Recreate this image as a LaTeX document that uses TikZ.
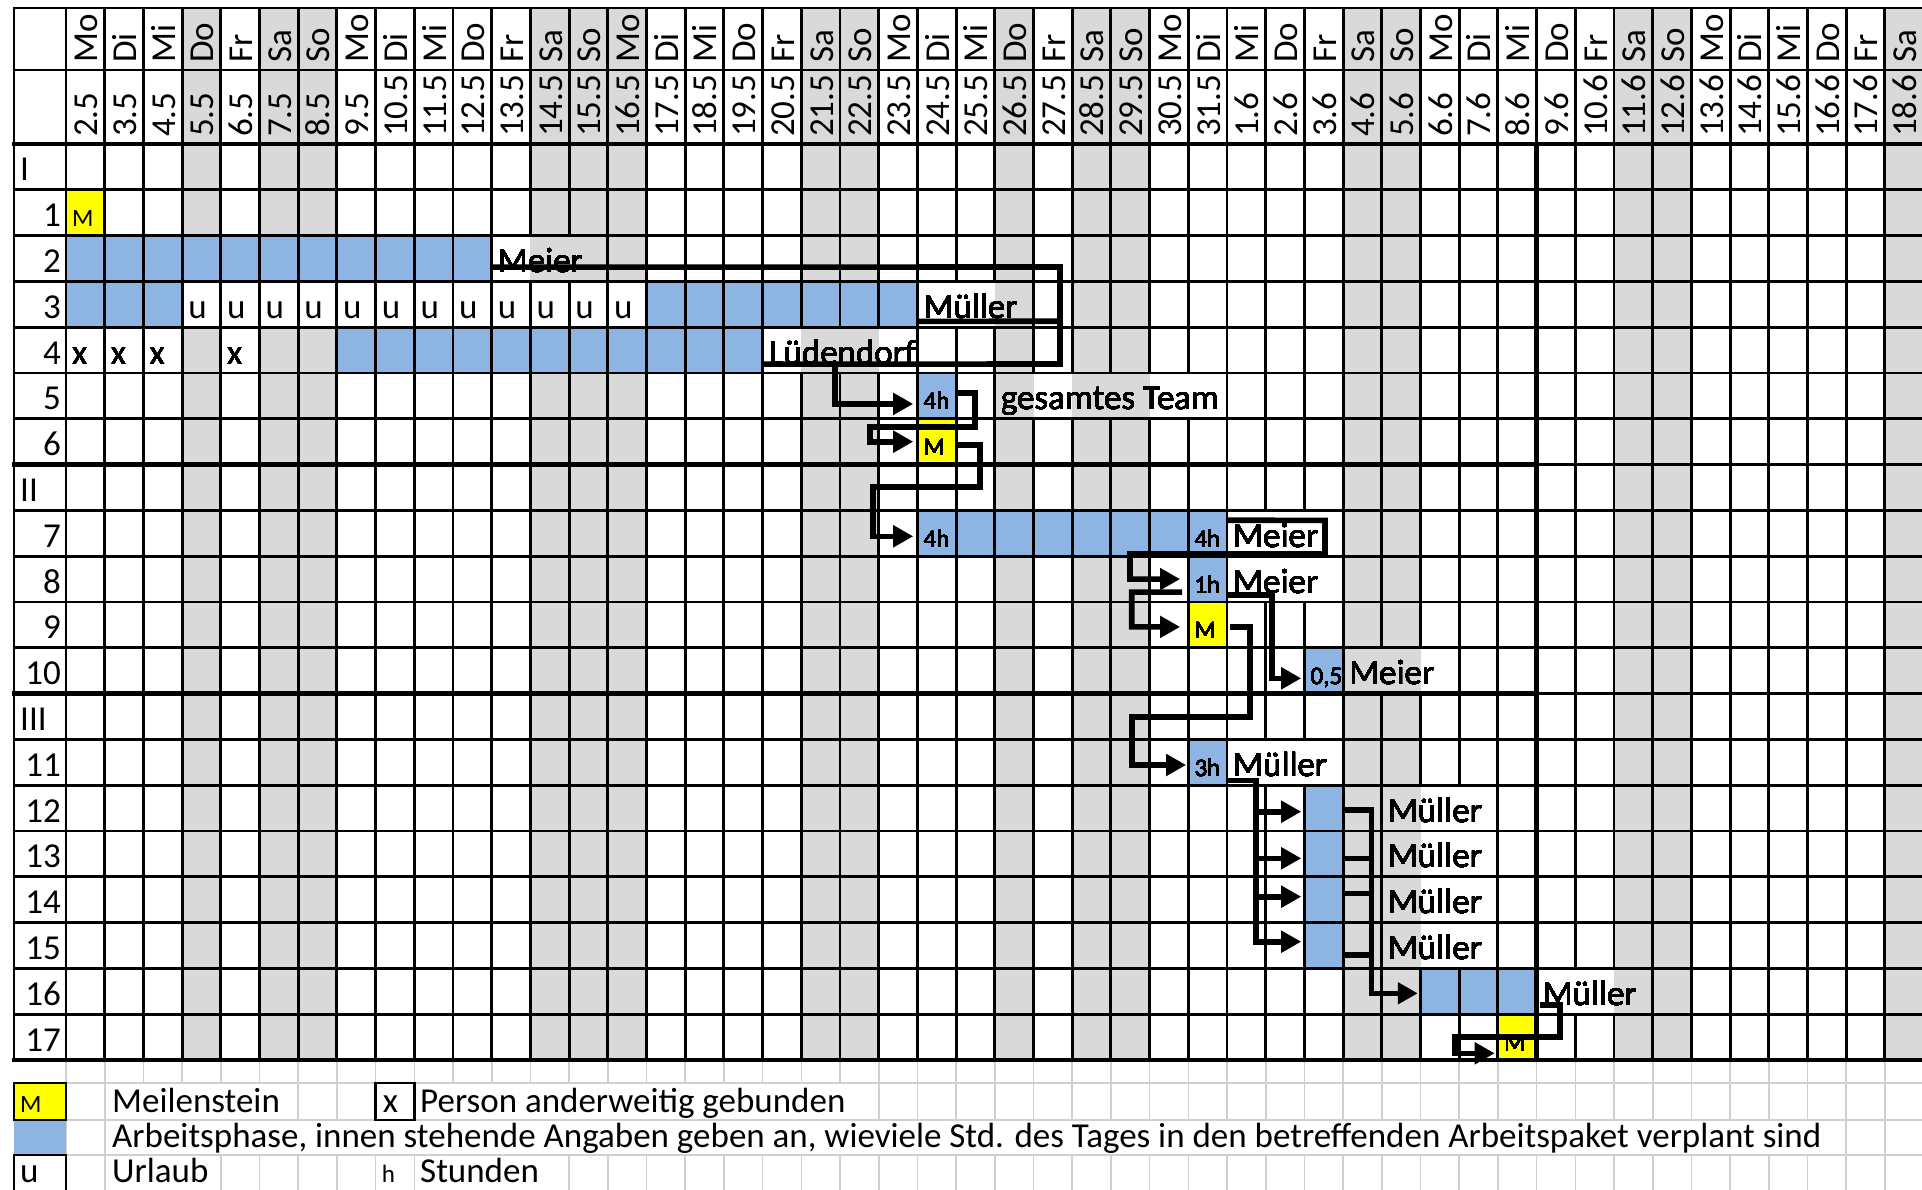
\documentclass[tikz,border=0pt]{standalone}
\usepackage{fontspec}
\setmainfont{Carlito}
\usetikzlibrary{arrows.meta}
\definecolor{wkend}{HTML}{D9D9D9}
\definecolor{barblue}{HTML}{8DB4E2}
\definecolor{msyellow}{HTML}{FFFF00}
\definecolor{lgrid}{HTML}{D0D0D0}
\newcommand\skipv[2]{\expandafter\gdef\csname sk@#1@#2\endcsname{}}
\newcommand\skipl[2]{\expandafter\gdef\csname lk@#1@#2\endcsname{}}
% body rows: grid lines hidden by overflowing text
\skipv{2}{12}\skipv{2}{13}
\skipv{3}{23}\skipv{3}{24}
\skipv{4}{19}\skipv{4}{20}\skipv{4}{21}
\foreach \coli in {25,...,29}{\skipv{5}{\coli}}
\skipv{8}{31}\skipv{8}{32}
\skipv{9}{31}\skipv{9}{32}
\skipv{11}{34}\skipv{11}{35}
\skipv{13}{31}\skipv{13}{32}
\foreach \rowi in {14,...,17}{\skipv{\rowi}{35}\skipv{\rowi}{36}}
\skipv{18}{39}\skipv{18}{40}
% legend rows
\foreach \coli in {2,...,5}{\skipl{1}{\coli}}
\foreach \coli in {10,...,20}{\skipl{1}{\coli}}
\foreach \coli in {2,...,45}{\skipl{2}{\coli}}
\skipl{3}{2}\skipl{3}{3}\skipl{3}{10}\skipl{3}{11}\skipl{3}{12}
\newcommand\mkbar[5]{\node[cellbox,fill=#5,minimum width={38.7pt*(#4-#3+1)}] (#1) at ({66+38.7*(#3+#4+1)/2},{144+45.8*(#2)+22.9}) {};}
\newcommand\ctext[5]{\node[#5] (#1) at ({66+38.7*(#3)+6},{144+45.8*(#2+1)-9}) {#4};}
\begin{document}
\begin{tikzpicture}[x=1pt,y=-1pt,
  gl/.style={line width=2.9pt,black},
  thk/.style={line width=4.6pt,black},
  lg/.style={line width=1.6pt,lgrid},
  conn/.style={line width=5.6pt,black,line join=miter},
  arr/.style={conn,-{Triangle[length=20pt,width=21pt]}},
  txt/.style={inner sep=0pt,anchor=base west,font=\fontsize{35}{40}\selectfont},
  small/.style={inner sep=0pt,anchor=base west,font=\fontsize{25}{28}\selectfont},
  rlab/.style={inner sep=0pt,anchor=base east,font=\fontsize{35}{40}\selectfont},
  cellbox/.style={inner sep=0pt,minimum width=38.7pt,minimum height=45.8pt,draw=none},
]
\useasboundingbox (0,0) rectangle (1922,1190);
\fill[white] (0,0) rectangle (1922,1190);
% weekend / holiday columns
\foreach \coli in {3,5,6,12,13,14,19,20,24,26,27,33,34,40,41,47}
  \fill[wkend] ({66+38.7*\coli},8) rectangle ({66+38.7*(\coli+1)},1060);
% vacation cells are white
\fill[white] ({66+38.7*3},281.4) rectangle ({66+38.7*15},327.2);
% bars and milestones
\mkbar{m1}{1}{0}{0}{msyellow}
\mkbar{bar2}{2}{0}{10}{barblue}
\mkbar{bar3a}{3}{0}{2}{barblue}
\mkbar{bar3b}{3}{15}{21}{barblue}
\mkbar{bar4}{4}{7}{17}{barblue}
\mkbar{c5}{5}{22}{22}{barblue}
\mkbar{m6}{6}{22}{22}{msyellow}
\mkbar{bar7}{8}{22}{29}{barblue}
\mkbar{c8}{9}{29}{29}{barblue}
\mkbar{m9}{10}{29}{29}{msyellow}
\mkbar{c10}{11}{32}{32}{barblue}
\mkbar{c11}{13}{29}{29}{barblue}
\mkbar{c12}{14}{32}{32}{barblue}
\mkbar{c13}{15}{32}{32}{barblue}
\mkbar{c14}{16}{32}{32}{barblue}
\mkbar{c15}{17}{32}{32}{barblue}
\mkbar{bar16}{18}{35}{37}{barblue}
\mkbar{m17}{19}{37}{37}{msyellow}
% legend light grid
\foreach \L/\ya/\yb in {0/1060/1083,1/1083/1120,2/1120/1155,3/1155/1190}{
  \foreach \coli in {0,...,47}{
    \ifcsname lk@\L @\coli\endcsname\else
      \draw[lg] ({66+38.7*\coli},\ya) -- ({66+38.7*\coli},\yb);
    \fi}}
\foreach \yy in {1083,1120,1155} \draw[lg] (66,\yy) -- (1922,\yy);
% table grid
\draw[gl] (14,8) -- (1922,8);
\draw[gl] (14,70) -- (1922,70);
\foreach \rowi in {1,...,19} \draw[gl] (14,{144+45.8*\rowi}) -- (1922,{144+45.8*\rowi});
\draw[gl] (14,6.6) -- (14,1061);
\draw[gl] (66,6.6) -- (66,1061);
\foreach \coli in {1,...,47} \draw[gl] ({66+38.7*\coli},8) -- ({66+38.7*\coli},144);
\foreach \rowi in {0,...,19}{
  \foreach \coli in {1,...,47}{
    \ifcsname sk@\rowi @\coli\endcsname\else
      \draw[gl] ({66+38.7*\coli},{144+45.8*\rowi}) -- ({66+38.7*\coli},{144+45.8*(\rowi+1)});
    \fi}}
\draw[thk] (12,144) -- (1922,144);
\draw[thk] (12,464.6) -- (1536.6,464.6);
\draw[thk] (12,693.6) -- (1536.6,693.6);
\draw[thk] (1536.6,144) -- (1536.6,1060);
\draw[thk] (12,1060) -- (1922,1060);
% header texts
\foreach \i/\dte/\wdy in {0/2.5/Mo,1/3.5/Di,2/4.5/Mi,3/5.5/Do,4/6.5/Fr,5/7.5/Sa,6/8.5/So,
  7/9.5/Mo,8/10.5/Di,9/11.5/Mi,10/12.5/Do,11/13.5/Fr,12/14.5/Sa,13/15.5/So,
  14/16.5/Mo,15/17.5/Di,16/18.5/Mi,17/19.5/Do,18/20.5/Fr,19/21.5/Sa,20/22.5/So,
  21/23.5/Mo,22/24.5/Di,23/25.5/Mi,24/26.5/Do,25/27.5/Fr,26/28.5/Sa,27/29.5/So,
  28/30.5/Mo,29/31.5/Di,30/1.6/Mi,31/2.6/Do,32/3.6/Fr,33/4.6/Sa,34/5.6/So,
  35/6.6/Mo,36/7.6/Di,37/8.6/Mi,38/9.6/Do,39/10.6/Fr,40/11.6/Sa,41/12.6/So,
  42/13.6/Mo,43/14.6/Di,44/15.6/Mi,45/16.6/Do,46/17.6/Fr,47/18.6/Sa}{
  \node[txt,rotate=90] (wd\i) at ({66+38.7*(\i+1)-7},63) {\wdy};
  \node[txt,rotate=90] (dt\i) at ({66+38.7*(\i+1)-7},137) {\dte};
}
% row labels
\node[txt] (lI) at (20,181) {I};
\node[txt] (lII) at (20,{144+45.8*8-9}) {II};
\node[txt] (lIII) at (20,{144+45.8*13-9}) {III};
\foreach \rowi/\lab in {1/1,2/2,3/3,4/4,5/5,6/6,8/7,9/8,10/9,11/10,13/11,14/12,15/13,16/14,17/15,18/16,19/17}
  \node[rlab] (lab\lab) at (61,{144+45.8*(\rowi+1)-9}) {\lab};
% cell texts
\ctext{tm1}{1}{0}{M}{small}
\foreach \coli in {3,...,14} \ctext{tu\coli}{3}{\coli}{u}{txt}
\foreach \coli in {0,1,2,4} \ctext{tx\coli}{4}{\coli}{x}{txt}
\ctext{t2}{2}{11}{Meier}{txt}
\ctext{t3}{3}{22}{Müller}{txt}
\ctext{t4}{4}{18}{Lüdendorf}{txt}
\ctext{t5h}{5}{22}{4h}{small}
\ctext{t5}{5}{24}{gesamtes Team}{txt}
\ctext{tm6}{6}{22}{M}{small}
\ctext{t7h}{8}{22}{4h}{small}
\ctext{t7hb}{8}{29}{4h}{small}
\ctext{t7}{8}{30}{Meier}{txt}
\ctext{t8h}{9}{29}{1h}{small}
\ctext{t8}{9}{30}{Meier}{txt}
\ctext{tm9}{10}{29}{M}{small}
\ctext{t10h}{11}{32}{0,5}{small}
\ctext{t10}{11}{33}{Meier}{txt}
\ctext{t11h}{13}{29}{3h}{small}
\ctext{t11}{13}{30}{Müller}{txt}
\foreach \rowi in {14,...,17} \ctext{tmu\rowi}{\rowi}{34}{Müller}{txt}
\ctext{t16}{18}{38}{Müller}{txt}
\ctext{tm17}{19}{37}{M}{small}
% legend
\fill[barblue] (14,1120) rectangle (66,1155);
\draw[gl,fill=msyellow] (14,1083) rectangle (66,1120);
\draw[gl] (14,1155) rectangle (66,1196);
\draw[gl] ({66+38.7*8},1083) rectangle ({66+38.7*9},1120);
\node[small] (lgM) at (20,1112) {M};
\node[txt] (lgMs) at (112,1112) {Meilenstein};
\node[txt] (lgx) at ({66+38.7*8+7},1112) {x};
\node[txt] (lgxt) at (420,1112) {Person anderweitig gebunden};
\node[txt] (lgA) at (112,1147) {Arbeitsphase, innen stehende Angaben geben an, wieviele Std. des Tages in den betreffenden Arbeitspaket verplant sind};
\node[txt] (lgu) at (20,1182) {u};
\node[txt] (lgU) at (112,1182) {Urlaub};
\node[small] (lgh) at ({66+38.7*8+6},1182) {h};
\node[txt] (lgS) at (420,1182) {Stunden};
% connectors
\draw[conn] ([yshift=14.4pt]bar2.south east) -- (1060,267) -- (1060,364) -- ([yshift=9pt]bar4.south east);
\draw[conn] ([yshift=6pt]bar3b.south east) -- (1060,321.2);
\draw[arr] (835,364) |- ([xshift=-4pt,yshift=-8pt]c5.west);
\draw[arr] ([yshift=3pt]c5.east) -| (975,427) -- (870,427) |- ([xshift=-4pt]m6.west);
\draw[arr] ([yshift=-3pt]m6.east) -| (980,487) -- (873,487) |- ([xshift=-4pt,yshift=-3pt]bar7.west);
\draw[arr] ([yshift=-10pt]bar7.north east) -- (1325,520.4) -- (1325,554) -- (1130,554) |- ([xshift=-8pt]c8.west);
\draw[arr] ([xshift=-6pt,yshift=-13pt]c8.west) -- (1131.7,592.1) |- ([xshift=-8pt,yshift=-2pt]m9.west);
\draw[arr] ([yshift=-16pt]c8.east) -| ([xshift=-32pt,yshift=-7.6pt]c10.west) -- ([xshift=-3pt,yshift=-7.6pt]c10.west);
\draw[arr] ([xshift=3pt,yshift=-2pt]m9.east) -| (1250,717) -- (1131.7,717) |- ([xshift=-2pt,yshift=-2.7pt]c11.west);
\draw[arr] ([yshift=5pt]c11.south east) -| ([xshift=-48pt,yshift=3.8pt]c15.west) -- ([xshift=-3pt,yshift=3.8pt]c15.west);
\draw[arr] ([xshift=-48pt,yshift=-3.6pt]c12.west) -- ([xshift=-3pt,yshift=-3.6pt]c12.west);
\draw[arr] ([xshift=-48pt,yshift=-4.4pt]c13.west) -- ([xshift=-3pt,yshift=-4.4pt]c13.west);
\draw[arr] ([xshift=-48pt,yshift=3pt]c14.west) -- ([xshift=-3pt,yshift=3pt]c14.west);
\draw[arr] ([yshift=-2pt]c12.east) -| ([xshift=-48.8pt,yshift=-2pt]bar16.west) -- ([xshift=-2.5pt,yshift=-2pt]bar16.west);
\draw[conn] ([yshift=-4.4pt]c13.east) -- ++(30.9,0);
\draw[conn] ([yshift=6.4pt]c14.east) -- ++(30.9,0);
\draw[conn] ([yshift=-9.5pt]c15.east) -- ++(30.9,0);
\draw[arr] ([xshift=3.4pt,yshift=9.2pt]bar16.south east) -| (1560,1036.7) -- (1455,1036.7) |- ([xshift=-3pt,yshift=-16.2pt]m17.west);
\end{tikzpicture}
\end{document}
